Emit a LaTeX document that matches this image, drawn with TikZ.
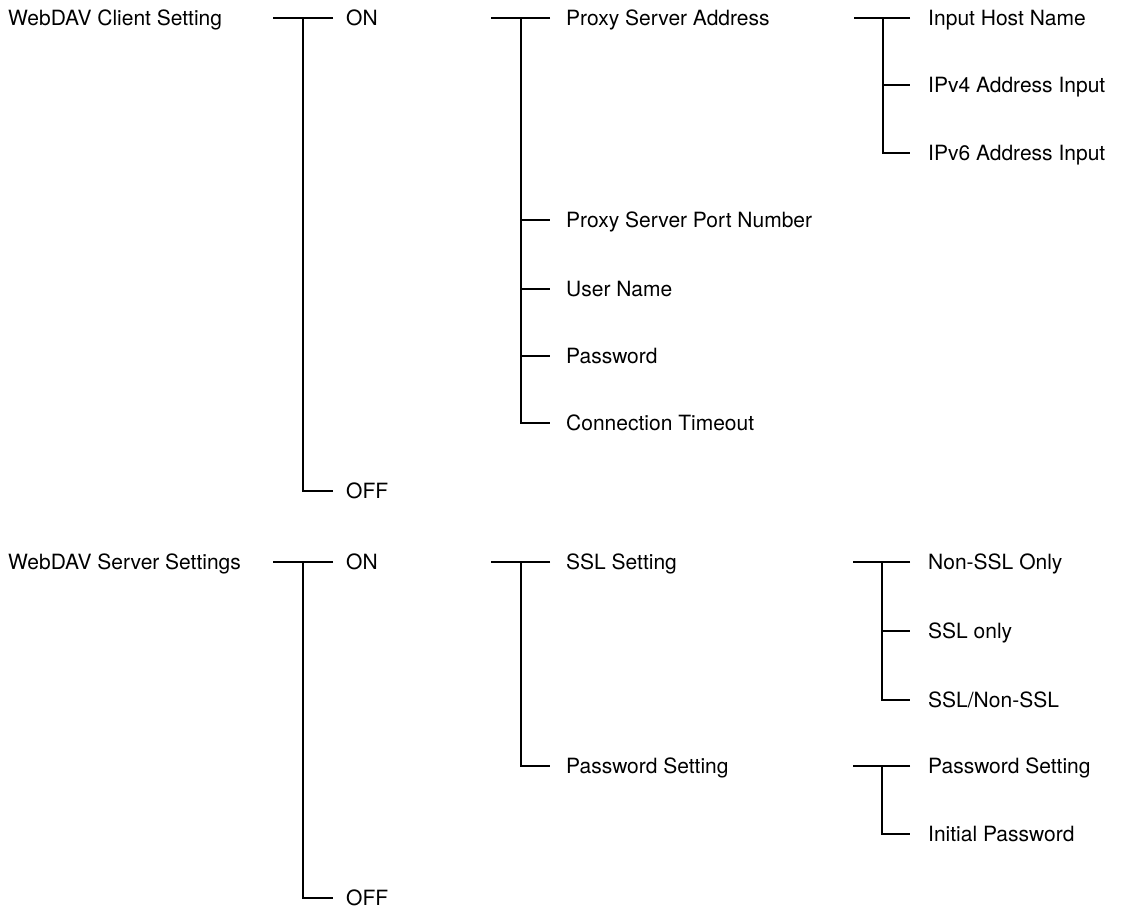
\documentclass[tikz,border=0pt]{standalone}
\usepackage{fontspec}
\setmainfont{TeX Gyre Heros}
\begin{document}
\begin{tikzpicture}[x=1pt,y=-1pt,
  lbl/.style={anchor=west, inner sep=0pt, font=\fontsize{21}{25}\selectfont, text height=15pt, text depth=0pt},
  tl/.style={line width=1.2pt, line cap=butt}]
\useasboundingbox (0,0) rectangle (1123,913);
% ---------- tree 1 ----------
\node[lbl] (root1) at (8,18) {WebDAV Client Setting};
\node[lbl] (on1) at (346,18) {ON};
\node[lbl] (off1) at (346,491) {OFF};
\node[lbl] (psa) at (566,18) {Proxy Server Address};
\node[lbl] (psp) at (566,220) {Proxy Server Port Number};
\node[lbl] (un) at (566,289) {User Name};
\node[lbl] (pw) at (566,356) {Password};
\node[lbl] (ct) at (566,423) {Connection Timeout};
\node[lbl] (ihn) at (928,18) {Input Host Name};
\node[lbl] (ip4) at (928,85) {IPv4 Address Input};
\node[lbl] (ip6) at (928,153) {IPv6 Address Input};
% ---------- tree 2 ----------
\node[lbl] (root2) at (8,562) {WebDAV Server Settings};
\node[lbl] (on2) at (346,562) {ON};
\node[lbl] (off2) at (346,898) {OFF};
\node[lbl] (ssl) at (566,562) {SSL Setting};
\node[lbl] (pws) at (566,766) {Password Setting};
\node[lbl] (nso) at (928,562) {Non-SSL Only};
\node[lbl] (sso) at (928,631) {SSL only};
\node[lbl] (ssn) at (928,700) {SSL/Non-SSL};
\node[lbl] (pws2) at (928,766) {Password Setting};
\node[lbl] (ipw) at (928,834) {Initial Password};
% ---------- connectors ----------
% level 1
\draw[tl] ([xshift=-13pt]on1.west) -- ([xshift=-73pt]on1.west);
\draw[tl] ([xshift=-43pt]on1.west) |- ([xshift=-13pt]off1.west);
\draw[tl] ([xshift=-13pt]on2.west) -- ([xshift=-73pt]on2.west);
\draw[tl] ([xshift=-43pt]on2.west) |- ([xshift=-13pt]off2.west);
% level 2
\draw[tl] ([xshift=-16pt]psa.west) -- ([xshift=-75pt]psa.west);
\draw[tl] ([xshift=-45pt]psa.west) |- ([xshift=-16pt]ct.west);
\foreach \n in {psp,un,pw}
  \draw[tl] ([xshift=-45pt]\n.west) -- ([xshift=-16pt]\n.west);
\draw[tl] ([xshift=-16pt]ssl.west) -- ([xshift=-75pt]ssl.west);
\draw[tl] ([xshift=-45pt]ssl.west) |- ([xshift=-16pt]pws.west);
% level 3
\draw[tl] ([xshift=-18pt]ihn.west) -- ([xshift=-74pt]ihn.west);
\draw[tl] ([xshift=-45pt]ihn.west) |- ([xshift=-18pt]ip6.west);
\draw[tl] ([xshift=-45pt]ip4.west) -- ([xshift=-18pt]ip4.west);
\draw[tl] ([xshift=-18pt]nso.west) -- ([xshift=-75pt]nso.west);
\draw[tl] ([xshift=-46pt]nso.west) |- ([xshift=-18pt]ssn.west);
\draw[tl] ([xshift=-46pt]sso.west) -- ([xshift=-18pt]sso.west);
\draw[tl] ([xshift=-18pt]pws2.west) -- ([xshift=-75pt]pws2.west);
\draw[tl] ([xshift=-46pt]pws2.west) |- ([xshift=-18pt]ipw.west);
\end{tikzpicture}
\end{document}
